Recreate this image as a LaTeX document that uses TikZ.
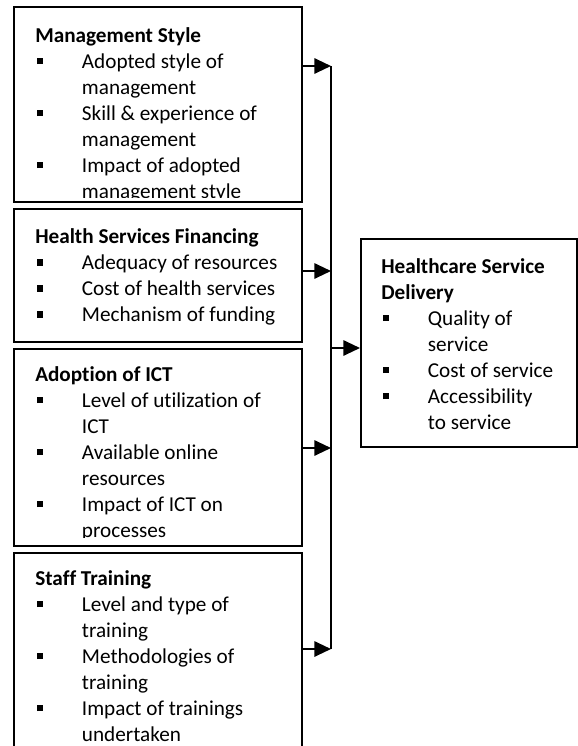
\documentclass[tikz,border=0pt]{standalone}
\usepackage{fontspec}
\setmainfont{Carlito}[Ligatures=NoCommon]
\usetikzlibrary{arrows.meta,fit,calc}

% small square bullet used in all lists
\newcommand{\sqbullet}{\hspace*{1pt}\rule[3.2pt]{4.6pt}{4.6pt}}

\tikzset{
  frame/.style={draw=black, line width=1.5pt, inner sep=0pt},
  txt/.style={anchor=north west, inner sep=0pt,
              font=\fontsize{15.9}{19.5}\selectfont},
  link/.style={line width=1.5pt},
  arr/.style={line width=1.5pt, -{Triangle[length=12.5pt,width=11.5pt]}}
}

\begin{document}
\begin{tikzpicture}[x=0.75pt,y=-0.75pt]
\useasboundingbox (0,0) rectangle (578,746);

% factor boxes on the left and the outcome box on the right
\node[frame, fit={(14,7)(302,202)}]     (ms)  {};
\node[frame, fit={(14,209)(302,341.5)}] (hsf) {};
\node[frame, fit={(14,348.5)(302,546)}] (ict) {};
\node[frame, fit={(14,553)(302,760)}]   (st)  {};
\node[frame, fit={(361,239)(577,447)}]  (hsd) {};

% box contents (text that runs past a frame is cut off)
\begin{scope}
\clip (ms.north west) rectangle ($(ms.south east)+(0,-6)$);
\node[txt] (tms) at ($(ms.north west)+(22,17.8)$) {%
\begin{tabular}{@{}p{35pt}@{}l@{}}
\multicolumn{2}{@{}l@{}}{\bfseries Management Style}\\
\sqbullet & Adopted style of\\
          & management\\
\sqbullet & Skill \& experience of\\
          & management\\
\sqbullet & Impact of adopted\\
          & management style
\end{tabular}};
\end{scope}

\node[txt] (thsf) at ($(hsf.north west)+(22,17.3)$) {%
\begin{tabular}{@{}p{35pt}@{}l@{}}
\multicolumn{2}{@{}l@{}}{\bfseries Health Services Financing}\\
\sqbullet & Adequacy of resources\\
\sqbullet & Cost of health services\\
\sqbullet & Mechanism of funding
\end{tabular}};

\begin{scope}
\clip (ict.north west) rectangle ($(ict.south east)+(0,-10)$);
\node[txt] (tict) at ($(ict.north west)+(22,15.3)$) {%
\begin{tabular}{@{}p{35pt}@{}l@{}}
\multicolumn{2}{@{}l@{}}{\bfseries Adoption of ICT}\\
\sqbullet & Level of utilization of\\
          & ICT\\
\sqbullet & Available online\\
          & resources\\
\sqbullet & Impact of ICT on\\
          & processes
\end{tabular}};
\end{scope}

\node[txt] (tst) at ($(st.north west)+(22,15)$) {%
\begin{tabular}{@{}p{35pt}@{}l@{}}
\multicolumn{2}{@{}l@{}}{\bfseries Staff Training}\\
\sqbullet & Level and type of\\
          & training\\
\sqbullet & Methodologies of\\
          & training\\
\sqbullet & Impact of trainings\\
          & undertaken
\end{tabular}};

\node[txt] (thsd) at ($(hsd.north west)+(21,17)$) {%
\begin{tabular}{@{}p{35pt}@{}l@{}}
\multicolumn{2}{@{}l@{}}{\bfseries Healthcare Service}\\
\multicolumn{2}{@{}l@{}}{\bfseries Delivery}\\
\sqbullet & Quality of\\
          & service\\
\sqbullet & Cost of service\\
\sqbullet & Accessibility\\
          & to service
\end{tabular}};

% collecting bus and arrows
\coordinate (j1) at (331,66);
\coordinate (j2) at (331,271);
\coordinate (j3) at (331,348);
\coordinate (j4) at (331,448);
\coordinate (j5) at (331,649);

\draw[link] (j1) -- (j5);
\draw[arr] (ms.east |- j1)  -- (j1);
\draw[arr] (hsf.east |- j2) -- (j2);
\draw[arr] (ict.east |- j4) -- (j4);
\draw[arr] (st.east |- j5)  -- (j5);
\draw[arr] (j3) -- (hsd.west |- j3);
\end{tikzpicture}
\end{document}
